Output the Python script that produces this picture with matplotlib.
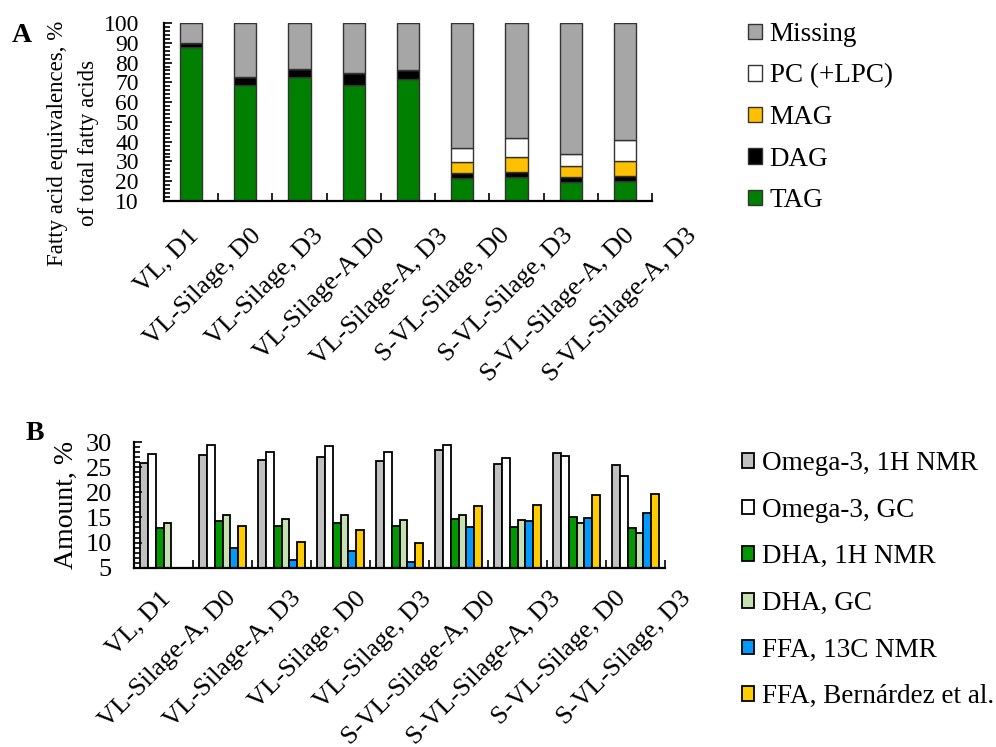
import numpy as np
import matplotlib
matplotlib.use('Agg')
import matplotlib.pyplot as plt
from matplotlib.ticker import MultipleLocator
from matplotlib.transforms import ScaledTranslation

plt.rcParams['font.family'] = ['Liberation Serif', 'DejaVu Serif']
plt.rcParams['font.size'] = 16

# panel A data (stacked parts)
cats_a = ['VL, D1', 'VL-Silage, D0', 'VL-Silage, D3', 'VL-Silage-A D0', 'VL-Silage-A, D3',
          'S-VL-Silage, D0', 'S-VL-Silage, D3', 'S-VL-Silage-A, D0', 'S-VL-Silage-A, D3']
tag = [87.8, 68.4, 72.9, 68.9, 71.9, 21.5, 21.9, 19.8, 20.0]
dag = [1.9, 4.5, 3.7, 6.0, 4.2, 2.5, 2.7, 2.4, 2.4]
mag = [0.0, 0.0, 0.0, 0.0, 0.0, 5.6, 7.7, 5.4, 7.7]
pc = [0.0, 0.0, 0.0, 0.0, 0.0, 7.0, 9.4, 6.1, 10.7]

# panel B data
cats_b = ['VL, D1', 'VL-Silage-A, D0', 'VL-Silage-A, D3', 'VL-Silage, D0', 'VL-Silage, D3',
          'S-VL-Silage-A, D0', 'S-VL-Silage-A, D3', 'S-VL-Silage, D0', 'S-VL-Silage, D3']
omega_nmr = [25.8, 27.4, 26.4, 27.0, 26.2, 28.5, 25.6, 27.8, 25.5]
omega_gc = [27.6, 29.5, 28.1, 29.3, 28.1, 29.4, 26.8, 27.2, 23.2]
dha_nmr = [12.8, 14.2, 13.3, 13.9, 13.2, 14.6, 13.0, 15.0, 12.8]
dha_gc = [13.8, 15.5, 14.6, 15.4, 14.5, 15.5, 14.4, 13.9, 12.0]
ffa_13c = [0, 8.9, 6.6, 8.3, 6.1, 13.0, 14.2, 14.9, 15.8]
ffa_bern = [0, 13.3, 10.2, 12.5, 9.9, 17.2, 17.5, 19.5, 19.7]

fig = plt.figure(figsize=(9.96, 7.47), dpi=100)

def style_axis(ax, ypad):
    for s in ['top', 'right']:
        ax.spines[s].set_visible(False)
    for s in ['left', 'bottom']:
        ax.spines[s].set_linewidth(1.6)
    ax.set_xlim(-0.5, 8.5)
    ax.set_xticks(np.arange(0.5, 9, 1), minor=True)
    ax.tick_params(axis='x', which='minor', direction='in', length=6, width=1.2)
    ax.tick_params(axis='y', which='both', direction='in', width=1.2, pad=ypad)
    ax.tick_params(axis='y', which='major', length=6)
    ax.tick_params(axis='y', which='minor', length=4)

def shift_labels(ax, dx0, step, dy):
    # the original labels are spread a little wider than the bars (pixels, 100 dpi)
    for i, lab in enumerate(ax.get_xticklabels()):
        off = ScaledTranslation((dx0 + step * i) / 100, dy / 100, fig.dpi_scale_trans)
        lab.set_transform(lab.get_transform() + off)

# ---- panel A
ax1 = fig.add_axes([164/996, 1-201/747, 488/996, 178/747])
x = np.arange(len(cats_a))
w = 0.41
tag = np.array(tag); dag = np.array(dag); mag = np.array(mag); pc = np.array(pc)
missing = 100 - tag - dag - mag - pc
ec = '#333333'
b_tag = ax1.bar(x, tag, w, color='#008000', edgecolor=ec, linewidth=1)
b_dag = ax1.bar(x, dag, w, bottom=tag, color='black', edgecolor=ec, linewidth=1)
b_mag = ax1.bar(x, mag, w, bottom=tag+dag, color='#FFC000', edgecolor=ec, linewidth=1)
b_pc = ax1.bar(x, pc, w, bottom=tag+dag+mag, color='white', edgecolor=ec, linewidth=1)
b_mis = ax1.bar(x, missing, w, bottom=tag+dag+mag+pc, color='#A6A6A6', edgecolor=ec, linewidth=1)
style_axis(ax1, 18)
ax1.set_ylim(10, 100)
ax1.yaxis.set_major_locator(MultipleLocator(10))
ax1.yaxis.set_minor_locator(MultipleLocator(2))
ax1.tick_params(axis='y', labelsize=17)
ax1.set_xticks(x)
ax1.set_xticklabels(cats_a, rotation=45, ha='right', va='center', rotation_mode='anchor', fontsize=19)
ax1.tick_params(axis='x', which='major', length=0, pad=24)
shift_labels(ax1, 4, 8.1, 2)
ax1.set_ylabel('Fatty acid equivalences, %\nof total fatty acids', fontsize=16.5, linespacing=1.65)
ax1.yaxis.set_label_coords((99-164)/488, (201-143)/178)
ax1.legend([b_mis, b_pc, b_mag, b_dag, b_tag], ['Missing', 'PC (+LPC)', 'MAG', 'DAG', 'TAG'],
           loc='upper left', bbox_to_anchor=(748/996, 1-22/747), bbox_transform=fig.transFigure,
           frameon=False, borderpad=0, borderaxespad=0, handlelength=0.5, handleheight=0.5,
           handletextpad=0.3, labelspacing=0.61, fontsize=19.5)
fig.text(22/996, 1-35/747, 'A', fontsize=20, fontweight='bold', ha='center', va='center')

# ---- panel B
ax2 = fig.add_axes([134/996, 1-567.7/747, 531/996, 125.7/747])
xb = np.arange(len(cats_b))
bw = 0.135
series = [(omega_nmr, '#C0C0C0', 'Omega-3, 1H NMR'),
          (omega_gc, 'white', 'Omega-3, GC'),
          (dha_nmr, '#009900', 'DHA, 1H NMR'),
          (dha_gc, '#C6E0B4', 'DHA, GC'),
          (ffa_13c, '#0099FF', 'FFA, 13C NMR'),
          (ffa_bern, '#FFCC00', 'FFA, Bernárdez et al.')]
for i, (vals, col, lab) in enumerate(series):
    ax2.bar(xb + (i - 2.5) * bw, vals, bw, color=col, edgecolor='black', linewidth=1.3, label=lab)
style_axis(ax2, 16)
ax2.set_ylim(5, 30)
ax2.yaxis.set_major_locator(MultipleLocator(5))
ax2.yaxis.set_minor_locator(MultipleLocator(1))
ax2.tick_params(axis='y', labelsize=19)
ax2.set_xticks(xb)
ax2.set_xticklabels(cats_b, rotation=45, ha='right', va='center', rotation_mode='anchor', fontsize=19)
ax2.tick_params(axis='x', which='major', length=0, pad=24)
shift_labels(ax2, 4, 6, 6)
ax2.set_ylabel('Amount, %', fontsize=20)
ax2.yaxis.set_label_coords((79-134)/531, 0.5)
ax2.legend(loc='upper left', bbox_to_anchor=(742/996, 1-451/747), bbox_transform=fig.transFigure,
           frameon=False, borderpad=0, borderaxespad=0, handlelength=0.45, handleheight=0.45,
           handletextpad=0.3, labelspacing=0.8, fontsize=19.5)
fig.text(35/996, 1-434/747, 'B', fontsize=20, fontweight='bold', ha='center', va='center')

fig.savefig('out.png', dpi=100)
